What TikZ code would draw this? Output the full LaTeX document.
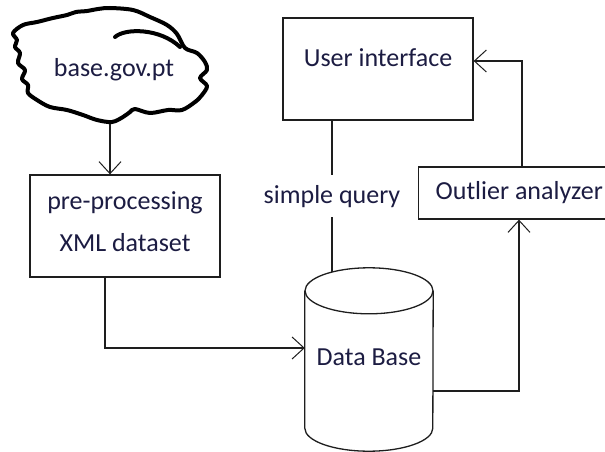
\documentclass[tikz,border=0pt]{standalone}
\usepackage{fontspec}
\setmainfont{Carlito}
\usetikzlibrary{arrows.meta,calc}
\definecolor{ink}{RGB}{28,28,66}
\definecolor{edge}{RGB}{30,30,30}
\tikzset{
  txt/.style={text=ink,font=\fontsize{26}{31}\selectfont,inner sep=0pt},
  box/.style={draw=edge,line width=1.3pt,fill=white},
  link/.style={draw=edge,line width=1.1pt},
  arr/.style={link,-{Straight Barb[length=12pt,width=22pt,line width=1pt]}},
  cloudline/.style={draw=black,line width=4pt,line join=round,line cap=round},
}
\begin{document}
\begin{tikzpicture}[x=1pt,y=-1pt]
  \useasboundingbox[fill=white] (0,0) rectangle (605,452);
  \clip (0,0) rectangle (605,452);

  % data source: hand-drawn cloud outline
  \draw[cloudline] plot[smooth cycle,tension=0.55] coordinates {
      (13,33) (23,25) (37,22) (53,18) (67,15) (76,12) (87,11) (98,9)
      (110,8) (133,10) (150,17) (167,25) (177,34) (185,48) (197,53)
      (205,62) (207,70) (200,78) (207,86) (202,95) (195,102) (182,110)
      (168,110) (150,113) (135,109) (130,112) (123,117) (112,122)
      (97,120) (83,115) (67,110) (50,107) (37,100) (28,93) (28,85)
      (22,79) (25,70) (18,63) (20,53) (15,47) (17,40)};
  \draw[cloudline] (115,37) .. controls (125,28) and (160,28) .. (180,47);
  \node[txt] (src) at (114,70) {base.gov.pt};
  \coordinate (srcbot) at (110,124);

  % pre-processing step
  \node[box,minimum width=190pt,minimum height=102pt] (pre) at (125,226) {};
  \node[txt,align=center,font=\fontsize{26}{42}\selectfont] (pretxt) at (125,222)
       {pre-processing\\XML dataset};

  % user interface
  \node[box,minimum width=190pt,minimum height=102pt] (ui) at (378,69) {};
  \node[txt] (uitxt) at (378,58) {User interface};

  % outlier analyzer (runs off the right edge)
  \node[txt,box,anchor=west,minimum height=52pt,inner xsep=17pt,inner ysep=0pt,
        text height=18pt,text depth=6pt] (out) at (418,193) {Outlier analyzer};

  % database cylinder
  \node[minimum width=128pt,minimum height=183pt,inner sep=0pt] (db) at (369,359.5) {};
  \coordinate (dbtop) at ($(db.north)+(0,23)$);
  \coordinate (dbbot) at ($(db.south)+(0,-23)$);
  \draw[link,line width=1.3pt] (dbtop) ellipse [x radius=64pt,y radius=23pt];
  \draw[link,line width=1.3pt] (dbtop -| db.west) -- (dbbot -| db.west)
        arc[start angle=180,end angle=360,x radius=64pt,y radius=23pt]
        -- (dbtop -| db.east);
  \node[txt] (dbtxt) at (369,357) {Data Base};

  % connectors
  \draw[arr] (srcbot) -- (pre.north -| srcbot);
  \draw[arr] ([xshift=-20pt]pre.south) |- ([yshift=11.5pt]db.west);
  \draw[link] ([xshift=-46pt]ui.south) -- node[txt,fill=white,inner ysep=10pt,inner xsep=2pt]
        (sq) {simple query} (332,272);
  \draw[arr] ([yshift=-31.5pt]db.east) -| ([xshift=101pt]out.south west);
  \draw[arr] ([xshift=104pt]out.north west) |- ([yshift=8pt]ui.east);
\end{tikzpicture}
\end{document}
